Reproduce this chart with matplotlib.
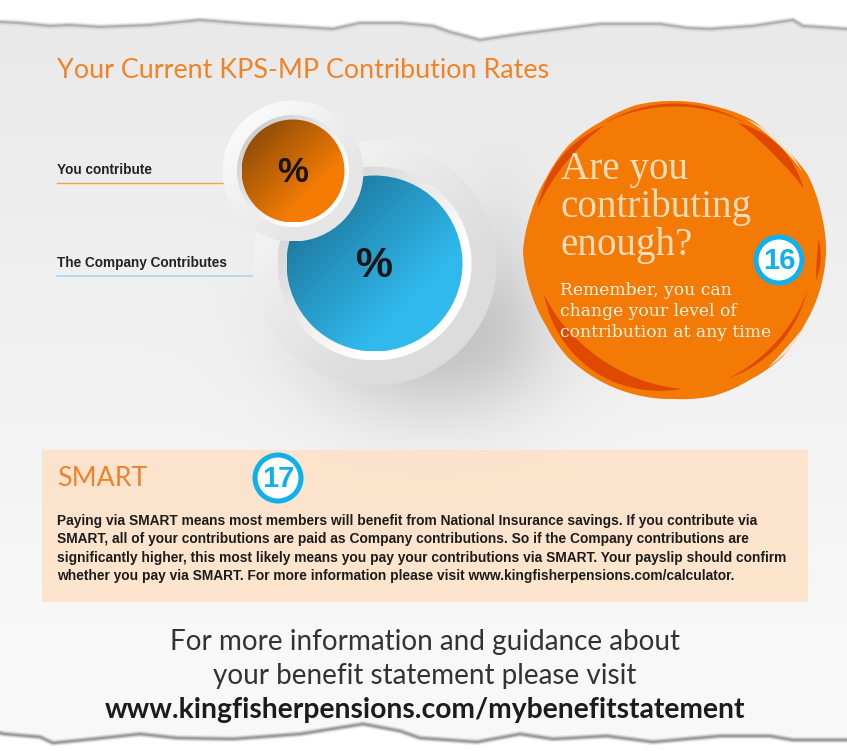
import numpy as np
import matplotlib
matplotlib.use("Agg")
import matplotlib.pyplot as plt
from matplotlib.colors import to_rgb
from matplotlib.patches import Circle, Polygon, Rectangle

W, H = 847, 751

ORANGE = "#f27a05"
DARK_ORANGE = "#e04a00"
BLUE = "#0fb0ec"

title = "Your Current KPS-MP Contribution Rates"
you_label = "You contribute"
company_label = "The Company Contributes"
pct_sign = "%"
bubble_head = ["Are you", "contributing", "enough?"]
bubble_body = ["Remember, you can", "change your level of", "contribution at any time"]
smart_head = "SMART"
smart_lines = [
    "Paying via SMART means most members will benefit from National Insurance savings. If you contribute via",
    "SMART, all of your contributions are paid as Company contributions. So if the Company contributions are",
    "significantly higher, this most likely means you pay your contributions via SMART. Your payslip should confirm",
    "whether you pay via SMART. For more information please visit www.kingfisherpensions.com/calculator.",
]
footer_lines = ["For more information and guidance about", "your benefit statement please visit"]
footer_url = "www.kingfisherpensions.com/mybenefitstatement"

# torn paper edges
top_x = [0, 20, 50, 70, 100, 150, 200, 250, 300, 333, 360, 400, 433, 450, 480, 520, 560, 600, 660, 687, 710, 753, 793, 803, 847]
top_y = [23, 24, 27, 26, 28, 26, 21, 25, 28, 30, 24, 24, 27, 33, 41, 35, 30, 25, 25, 29, 30, 27, 21, 27, 30]
bot_x = [0, 5, 40, 53, 93, 140, 177, 233, 300, 363, 400, 420, 477, 520, 553, 607, 653, 720, 770, 793, 847]
bot_y = [732, 733, 736, 742, 738, 733, 737, 738, 733, 723, 730, 737, 741, 733, 738, 735, 741, 735, 735, 739, 739]

# bubble outline: radius every 15 degrees
blob_deg = list(range(0, 360, 15))
blob_r = [151, 150, 149, 151, 149, 150, 148, 149, 150, 151, 149, 150,
          152, 149, 148, 150, 149, 151, 150, 150, 152, 150, 153, 151]

# bubble strokes: start deg, end deg, radius, width
stroke_a0 = [-120, -64, 197, 87, 17, -5]
stroke_a1 = [-60, -26, 241, 162, 68, 12]
stroke_r = [146, 143, 144, 138, 138, 144]
stroke_w = [3, 10, 7, 14, 4, 4]

# pale slits left between the scribbles
slit_a0 = [-62, 32]
slit_a1 = [-32, 51]
slit_r = [150, 149]
slit_w = [3, 3]


def crescent(cx, cy, a0, a1, r, w):
    t = np.linspace(0, 1, 40)
    a = np.radians(a0 + (a1 - a0) * t)
    bump = w * np.sin(np.pi * t)
    outer = np.c_[cx + (r + bump / 2) * np.cos(a), cy + (r + bump / 2) * np.sin(a)]
    inner = np.c_[cx + (r - bump / 2) * np.cos(a), cy + (r - bump / 2) * np.sin(a)]
    return np.vstack([outer, inner[::-1]])


def gradient_disc(ax, cx, cy, r, c0, c1, zorder):
    n = 200
    u, v = np.meshgrid(np.linspace(0, 1, n), np.linspace(0, 1, n))
    t = np.clip((u + v - 0.25) / 1.15, 0, 1)[..., None]
    img = (1 - t) * np.array(to_rgb(c0)) + t * np.array(to_rgb(c1))
    im = ax.imshow(img, extent=(cx - r, cx + r, cy + r, cy - r), zorder=zorder, aspect="auto")
    im.set_clip_path(Circle((cx, cy), r, transform=ax.transData))


def badge(ax, cx, cy, label):
    ax.add_patch(Circle((cx, cy), 23, fc="white", ec=BLUE, lw=3.6, zorder=8))
    ax.text(cx, cy + 1, label, color=BLUE, fontsize=21, fontweight="bold", family="Liberation Sans",
            ha="center", va="center", zorder=9)


def soft_line(ax, x, y, color, zorder):
    for lw, alpha in zip([4.5, 3, 1.6], [0.15, 0.25, 0.5]):
        ax.plot(x, y, color=color, lw=lw, alpha=alpha, zorder=zorder, solid_joinstyle="round")


fig = plt.figure(figsize=(W / 100, H / 100), dpi=100)
ax = fig.add_axes([0, 0, 1, 1])
ax.set_xlim(0, W)
ax.set_ylim(H, 0)
ax.axis("off")

# paper background and soft shadow under the big circle
yy, xx = np.mgrid[0:H, 0:W]
shade = 0.915 + 0.06 * np.clip((yy - 30) / 620, 0, 1)
shadow = 0.17 * np.exp(-(((xx - 430) / 115) ** 2 + ((yy - 345) / 75) ** 2))
shadow = shadow + 0.06 * np.exp(-(((xx - 500) / 45) ** 2 + ((yy - 270) / 90) ** 2))
bg = shade - shadow
ax.imshow(np.dstack([bg, bg, bg]), extent=(0, W, H, 0), aspect="auto", zorder=0)

# torn edges
ax.fill_between(top_x, 0, top_y, color="white", zorder=1)
soft_line(ax, top_x, np.array(top_y) - 1, "#909090", 1.5)
ax.fill_between(bot_x, bot_y, H, color="white", zorder=1)
soft_line(ax, bot_x, np.array(bot_y) + 1, "#707070", 1.5)

ax.text(57, 78, title, color="#f08326", fontsize=19.4, family="Lato", va="baseline", zorder=5)

# leader lines
ax.plot([57, 223], [182.5, 182.5], color="#f5a04a", lw=1.0, zorder=2)
ax.plot([57, 253], [275.5, 275.5], color="#a5d8ee", lw=1.2, zorder=2)
ax.text(57, 174, you_label, fontsize=9.8, fontweight="bold", family="Liberation Sans", color="#222222", zorder=5)
ax.text(57, 267, company_label, fontsize=9.85, fontweight="bold", family="Liberation Sans", color="#222222", zorder=5)

# big blue circle
gradient_disc(ax, 374.5, 263.5, 122, "#f6f6f6", "#dcdcdc", 2)
gradient_disc(ax, 374.5, 263.5, 97, "#d2d2d2", "#ffffff", 2.1)
gradient_disc(ax, 374.5, 263.5, 88, "#1c7399", "#30b9ec", 3)
ax.text(374.5, 266, pct_sign, fontsize=30, fontweight="bold", family="Liberation Sans", color="#151515",
        ha="center", va="center", zorder=7)

# small orange circle on top
gradient_disc(ax, 293, 171, 70.5, "#fbfbfb", "#e6e6e6", 4)
gradient_disc(ax, 293, 171, 56, "#cccccc", "#ffffff", 4.1)
gradient_disc(ax, 293, 171, 51.5, "#8f4c07", "#f57c04", 5)
ax.text(293, 173, pct_sign, fontsize=25, fontweight="bold", family="Liberation Sans", color="#151515",
        ha="center", va="center", zorder=7)

# scribbled orange bubble
cx, cy = 675, 251
a = np.radians(np.linspace(0, 360, 241))
r = np.interp(np.degrees(a), blob_deg + [360], blob_r + blob_r[:1])
ax.add_patch(Polygon(np.c_[cx + r * np.cos(a), cy + r * np.sin(a)], fc=ORANGE, ec="none", zorder=3))
for a0, a1, sr, sw in zip(stroke_a0, stroke_a1, stroke_r, stroke_w):
    ax.add_patch(Polygon(crescent(cx, cy, a0, a1, sr, sw), fc=DARK_ORANGE, ec="none", zorder=4))
for a0, a1, sr, sw in zip(slit_a0, slit_a1, slit_r, slit_w):
    ax.add_patch(Polygon(crescent(cx, cy, a0, a1, sr, sw), fc="#fbe6d2", ec="none", zorder=4))

for txt, y in zip(bubble_head, [179, 217, 255]):
    ax.text(561, y, txt, color="#ffdcb8", fontsize=28.2, family="Liberation Serif", zorder=6)
for txt, y in zip(bubble_body, [295, 316, 337]):
    ax.text(560, y, txt, color="#fff3e6", fontsize=12.3, family="DejaVu Serif", zorder=6)

badge(ax, 779, 260, "16")

# SMART panel
ax.add_patch(Rectangle((42, 450), 766, 152, fc="#ffdec0", alpha=0.75, ec="none", zorder=2))
ax.text(57, 486, smart_head, color="#f0832a", fontsize=19.3, family="Lato", zorder=5)
for txt, y in zip(smart_lines, [525, 543, 562, 580]):
    ax.text(57, y, txt, fontsize=9.93, fontweight="bold", family="Liberation Sans", color="#1c1c1c", zorder=5)
badge(ax, 278, 478, "17")

# footer
for txt, y in zip(footer_lines, [650, 684]):
    ax.text(425, y, txt, fontsize=20.1, family="Lato", color="#333333", ha="center", zorder=5)
ax.text(425, 718, footer_url, fontsize=20.3, family="Lato", fontweight="bold", color="#1c1c1c", ha="center", zorder=5)

fig.savefig("out.png", dpi=100)
